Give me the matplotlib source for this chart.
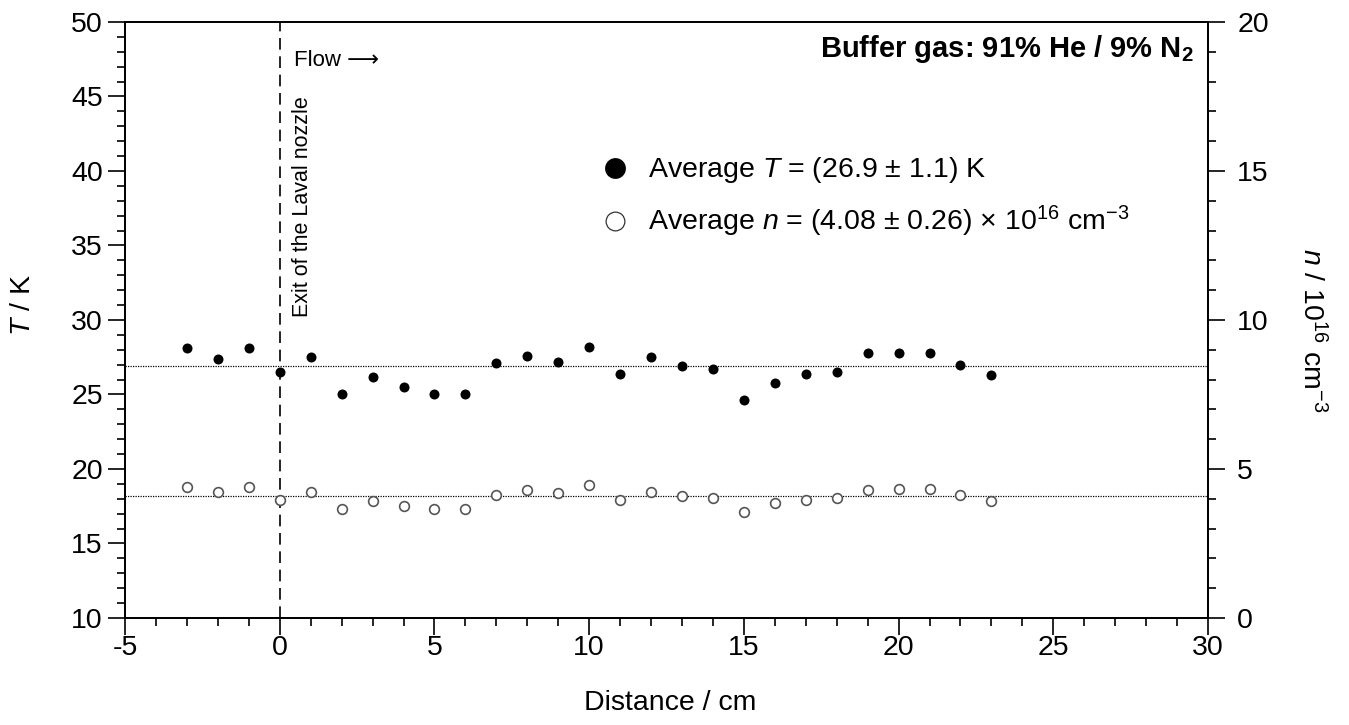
import numpy as np
import matplotlib
matplotlib.use("Agg")
import matplotlib.pyplot as plt
from matplotlib.lines import Line2D
from matplotlib.ticker import MultipleLocator

plt.rcParams['font.family'] = ['Liberation Sans', 'DejaVu Sans']
plt.rcParams['mathtext.fontset'] = 'custom'
plt.rcParams['mathtext.rm'] = 'Liberation Sans'
plt.rcParams['mathtext.it'] = 'Liberation Sans:italic'
plt.rcParams['mathtext.bf'] = 'Liberation Sans:bold'
plt.rcParams['axes.unicode_minus'] = False

# distance from the nozzle exit (cm)
distance = [-3, -2, -1, 0, 1, 2, 3, 4, 5, 6, 7, 8, 9, 10, 11, 12,
            13, 14, 15, 16, 17, 18, 19, 20, 21, 22, 23]
# temperature (K)
temperature = [28.1, 27.4, 28.1, 26.5, 27.5, 25.0, 26.2, 25.5, 25.0, 25.0,
               27.1, 27.6, 27.2, 28.2, 26.4, 27.5, 26.9, 26.7, 24.6, 25.8,
               26.4, 26.5, 27.8, 27.8, 27.8, 27.0, 26.3]
# number density (1e16 cm^-3)
density = [4.40, 4.24, 4.40, 3.96, 4.24, 3.67, 3.91, 3.76, 3.67, 3.67,
           4.14, 4.30, 4.19, 4.45, 3.97, 4.24, 4.09, 4.03, 3.56, 3.87,
           3.97, 4.03, 4.30, 4.34, 4.34, 4.14, 3.93]
avg_T = 26.9
avg_n = 4.08

FS = 20.5
fig = plt.figure(figsize=(13.49, 7.25), dpi=100)
ax = fig.add_axes([0.0927, 0.1476, 0.8028, 0.8221])
ax2 = ax.twinx()

# temperature - filled circles
ax.plot(distance, temperature, 'o', color='black', ms=7.2, mew=0, zorder=3)
ax.axhline(avg_T, color='black', lw=0.9, ls=(0, (1, 1)))
ax.axvline(0, color='black', lw=1.2, ls=(0, (7, 4)))

# density - open circles on the right axis
ax2.plot(distance, density, 'o', mfc='white', mec='#555555', ms=7, mew=1.2, zorder=3)
ax2.axhline(avg_n, color='black', lw=0.9, ls=(0, (1, 1)))

ax.set_xlim(-5, 30)
ax.set_ylim(10, 50)
ax2.set_ylim(0, 20)

for a in (ax, ax2):
    for s in a.spines.values():
        s.set_linewidth(1.3)

ax.xaxis.set_major_locator(MultipleLocator(5))
ax.xaxis.set_minor_locator(MultipleLocator(1))
ax.yaxis.set_major_locator(MultipleLocator(5))
ax.yaxis.set_minor_locator(MultipleLocator(1))
ax2.yaxis.set_major_locator(MultipleLocator(5))
ax2.yaxis.set_minor_locator(MultipleLocator(1))

ax.tick_params(axis='both', which='major', direction='out', length=12, width=1.2,
               labelsize=FS, pad=4)
ax.tick_params(axis='both', which='minor', direction='out', length=6, width=1.2)
ax.tick_params(axis='x', which='major', pad=0)
ax.tick_params(top=False, right=False, which='both')
ax2.tick_params(axis='y', which='major', direction='out', length=12, width=1.2,
                labelsize=FS, pad=9)
ax2.tick_params(axis='y', which='minor', direction='out', length=6, width=1.2)

ax.set_xlabel('Distance / cm', fontsize=FS)
ax.xaxis.set_label_coords(0.503, -0.121)
ax.set_ylabel(r'$T$ / K', fontsize=FS)
ax.yaxis.set_label_coords(-0.082, 0.525)
ax2.set_ylabel(r'$n$ / 10$^{16}$ cm$^{-3}$', fontsize=FS, rotation=270)
ax2.yaxis.set_label_coords(1.109, 0.483)

# annotations
ax.text(29.55, 47.65, r'Buffer gas: 91% He / 9% N$_\mathbf{2}$', fontsize=21,
        fontweight='bold', ha='right', va='baseline')
ax.text(0.47, 47.4, 'Flow \u27f6', fontsize=16, ha='left', va='center')
ax.text(0.72, 30.2, 'Exit of the Laval nozzle', fontsize=15.5, rotation=90,
        ha='center', va='bottom')

handles = [
    Line2D([], [], ls='none', marker='o', color='black', ms=15, mew=0),
    Line2D([], [], ls='none', marker='o', mfc='white', mec='#333333', ms=13.5, mew=0.9),
]
labels = [
    r'Average $T$ = (26.9 ± 1.1) K',
    r'Average $n$ = (4.08 ± 0.26) × 10$^{16}$ cm$^{-3}$',
]
leg = ax.legend(handles, labels, loc='upper left', bbox_to_anchor=(0.442, 0.776),
                frameon=False, fontsize=FS, handlelength=0.8, handletextpad=0.75,
                labelspacing=0.65, borderpad=0, borderaxespad=0)

fig.savefig('out.png', dpi=100)
